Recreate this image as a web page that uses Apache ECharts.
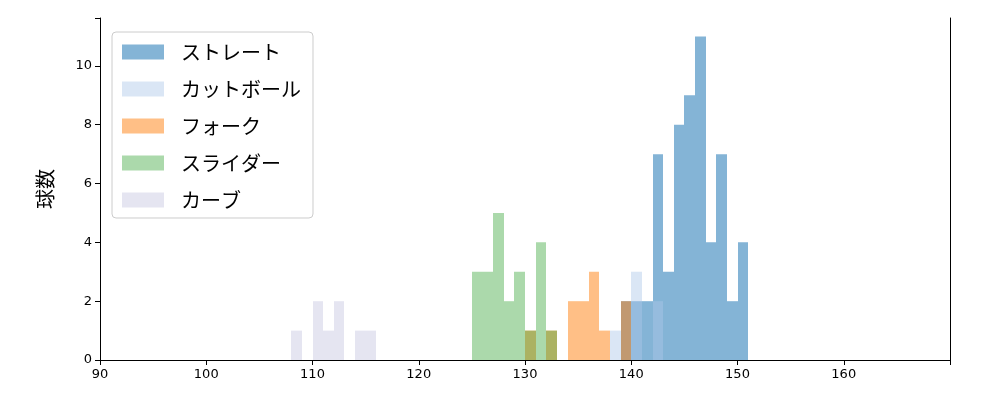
<!DOCTYPE html>
<html><head><meta charset="utf-8">
<script src="https://cdn.jsdelivr.net/npm/echarts@6/dist/echarts.min.js"></script>
<style>body{margin:0}#c{width:1000px;height:400px}</style></head>
<body><div id="c"></div>
<script>
const names = ['ストレート','カットボール','フォーク','スライダー','カーブ'];
const colors = ['rgba(31,119,180,0.55)','rgba(174,199,232,0.45)','rgba(255,127,14,0.5)','rgba(44,160,44,0.4)','rgba(197,197,224,0.45)'];
// [bin start, count], bin width 1
const straight = [[139,2],[140,2],[141,2],[142,7],[143,3],[144,8],[145,9],[146,11],[147,4],[148,7],[149,2],[150,4]];
const cutter = [[138,1],[140,3],[142,2]];
const fork = [[130,1],[132,1],[134,2],[135,2],[136,3],[137,1],[139,2]];
const slider = [[125,3],[126,3],[127,5],[128,2],[129,3],[130,1],[131,4],[132,1]];
const curve = [[108,1],[110,2],[111,1],[112,2],[114,1],[115,1]];
const all = [straight, cutter, fork, slider, curve];
function ri(params, api){
  const x=api.value(0), y=api.value(1);
  const p0=api.coord([x,0]), p1=api.coord([x+1,y]);
  const x0=Math.round(p0[0]), x1=Math.round(p1[0]);
  return {type:'rect', shape:{x:x0,y:p1[1],width:x1-x0,height:p0[1]-p1[1]}, style:{fill:colors[params.seriesIndex]}};
}
const ax = {axisLine:{show:true,lineStyle:{color:'#000'}},splitLine:{show:false}};
const chart = echarts.init(document.getElementById('c'));
chart.setOption({
  animation:false,
  grid:{left:100,right:50,top:18,bottom:40},
  xAxis:[{type:'value',min:90,max:170,interval:10,
    axisLabel:{formatter:v=>v>=170?'':v,fontSize:13,color:'#000',fontFamily:'DejaVu Sans'},
    axisLine:{lineStyle:{color:'#000'}},axisTick:{lineStyle:{color:'#000'},length:5},splitLine:{show:false}},
    Object.assign({type:'value',position:'top',min:90,max:170,axisLabel:{show:false},axisTick:{show:false}},ax)],
  yAxis:[{type:'value',min:0,max:11.63,interval:2,name:'球数',nameLocation:'middle',nameGap:45,
    nameTextStyle:{fontSize:20,color:'#000',fontFamily:'Noto Sans CJK JP'},
    axisLabel:{formatter:v=>Number.isInteger(v)?v:'',fontSize:13,color:'#000',fontFamily:'DejaVu Sans'},
    axisLine:{show:true,lineStyle:{color:'#000'}},axisTick:{show:true,lineStyle:{color:'#000'},length:5},splitLine:{show:false}},
    Object.assign({type:'value',position:'right',min:0,max:11.63,axisLabel:{show:false},axisTick:{show:false}},ax)],
  legend:{left:112,top:32,orient:'vertical',icon:'rect',itemWidth:42,itemHeight:15,itemGap:17,padding:[10,12,8,10],
    borderColor:'#ccc',borderWidth:1,borderRadius:4,backgroundColor:'#fff',
    textStyle:{fontSize:20,color:'#000',fontFamily:'Noto Sans CJK JP',padding:[0,0,0,12]},
    data:names.map((n,i)=>({name:n,itemStyle:{color:colors[i]}}))},
  series: all.map((d,i)=>({name:names[i],type:'custom',renderItem:ri,data:d,itemStyle:{color:colors[i]},encode:{x:0,y:1}}))
});
</script></body></html>
